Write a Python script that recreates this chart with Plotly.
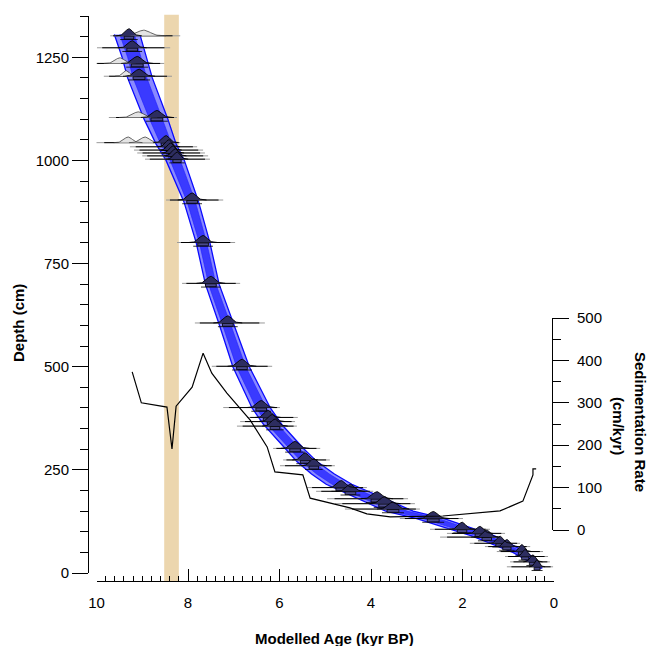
import numpy as np
import plotly.graph_objects as go

# ---------------- data ----------------
# age-depth model (centre line and half-widths of the two envelopes, kyr)
model_depth = [1305, 1250, 1200, 1100, 1040, 1000, 900, 800, 700, 600, 500, 400, 360, 300,
               270, 240, 215, 190, 170, 150, 132, 110, 90, 70, 50, 30, 12]
model_age = [9.33, 9.17, 9.05, 8.70, 8.48, 8.28, 7.93, 7.67, 7.47, 7.15, 6.84, 6.40, 6.15, 5.66,
             5.40, 5.05, 4.70, 4.20, 3.78, 3.38, 2.70, 2.10, 1.55, 1.15, 0.75, 0.48, 0.32]
model_hw_outer = [0.28, 0.27, 0.27, 0.26, 0.22, 0.20, 0.16, 0.15, 0.15, 0.16, 0.18, 0.20, 0.20, 0.20,
                  0.22, 0.25, 0.28, 0.30, 0.30, 0.30, 0.30, 0.28, 0.25, 0.20, 0.15, 0.10, 0.06]
model_hw_inner = [0.16, 0.15, 0.15, 0.14, 0.12, 0.11, 0.09, 0.08, 0.08, 0.09, 0.10, 0.11, 0.11, 0.11,
                  0.12, 0.14, 0.15, 0.17, 0.17, 0.17, 0.17, 0.15, 0.14, 0.11, 0.08, 0.06, 0.03]

# dated levels: depth (cm), modelled age (kyr), spread, range ends
date_depth = [1302, 1273, 1235, 1204, 1104, 1043, 1033, 1025, 1018, 1011, 1003, 904, 801, 702,
              606, 501, 401, 377, 367, 356, 302, 274, 260, 207, 198, 180, 168, 155, 132, 106,
              96, 87, 72, 64, 52, 40, 27, 15]
date_age = [9.29, 9.22, 9.11, 9.07, 8.68, 8.48, 8.42, 8.38, 8.33, 8.28, 8.24, 7.91, 7.67, 7.50,
            7.13, 6.82, 6.40, 6.25, 6.16, 6.10, 5.66, 5.44, 5.25, 4.65, 4.45, 3.87, 3.70, 3.52,
            2.64, 2.01, 1.62, 1.47, 1.18, 1.03, 0.70, 0.63, 0.46, 0.37]
date_sigma = [0.08, 0.09, 0.10, 0.10, 0.10, 0.08, 0.07, 0.07, 0.07, 0.07, 0.07, 0.09, 0.09, 0.09,
              0.09, 0.09, 0.09, 0.08, 0.08, 0.08, 0.09, 0.08, 0.08, 0.09, 0.09, 0.10, 0.10, 0.10,
              0.10, 0.08, 0.08, 0.08, 0.07, 0.07, 0.06, 0.06, 0.06, 0.05]
date_old = [9.70, 9.99, 10.14, 9.84, 9.73, 10.07, 9.27, 9.18, 9.11, 9.00, 8.94, 8.48, 8.24, 8.13,
            7.85, 7.48, 7.23, 6.71, 6.86, 6.93, 6.14, 5.92, 5.99, 5.40, 5.20, 4.96, 4.79, 4.57,
            3.37, 2.71, 2.34, 2.49, 1.84, 1.51, 1.25, 1.07, 0.96, 1.03]
date_young = [8.17, 8.39, 8.52, 8.35, 8.24, 8.17, 7.80, 7.67, 7.63, 7.56, 7.52, 7.23, 6.97, 6.86,
              6.32, 6.16, 5.99, 5.60, 5.66, 5.62, 5.11, 4.90, 4.79, 4.09, 3.95, 3.19, 3.04, 2.93,
              1.99, 1.40, 1.07, 1.18, 0.74, 0.52, 0.24, 0.13, 0.09, 0.02]

# unmodelled (prior) distributions
prior_depth = [1302, 1235, 1204, 1104, 1043, 1043]
prior_age = [8.97, 9.49, 9.35, 9.09, 9.31, 8.94]
prior_sigma = [0.14, 0.10, 0.07, 0.12, 0.09, 0.10]

# sedimentation rate curve
sed_age = [9.22, 9.02, 8.46, 8.35, 8.26, 7.91, 7.67, 7.48, 7.15, 6.64, 6.27, 6.10, 5.49, 5.33,
           4.46, 4.09, 3.58, 2.43, 1.18, 0.68, 0.46, 0.46, 0.39]
sed_rate = [373, 300, 290, 191, 292, 337, 417, 370, 323, 259, 196, 137, 130, 75,
            52, 38, 31, 33, 45, 68, 130, 144, 144]

event_band = [8.52, 8.20]

# ---------------- figure ----------------
FONT = "Liberation Sans, Arial, sans-serif"
fig = go.Figure()

md = np.array(model_depth, float)
ma = np.array(model_age, float)
ho = np.array(model_hw_outer, float)
hi = np.array(model_hw_inner, float)

fig.add_trace(go.Scatter(
    x=np.concatenate([ma - ho, (ma + ho)[::-1]]), y=np.concatenate([md, md[::-1]]),
    fill="toself", fillcolor="#8a8aff", line=dict(color="#0a0aff", width=1.3),
    mode="lines", hoverinfo="skip", showlegend=False))
fig.add_trace(go.Scatter(
    x=np.concatenate([ma - hi, (ma + hi)[::-1]]), y=np.concatenate([md, md[::-1]]),
    fill="toself", fillcolor="#3a3aff", line=dict(color="#2020ff", width=0.6),
    mode="lines", hoverinfo="skip", showlegend=False))

# sedimentation rate on the secondary axis
fig.add_trace(go.Scatter(x=sed_age, y=sed_rate, yaxis="y2", mode="lines",
                         line=dict(color="black", width=1.2), hoverinfo="skip",
                         showlegend=False))

# range lines
gx, gy, bx, by = [], [], [], []
for d, a, o, yg in zip(date_depth, date_age, date_old, date_young):
    gx += [o, yg, None]; gy += [d, d, None]
    bx += [a + 0.85 * (o - a), a - 0.85 * (a - yg), None]; by += [d, d, None]
fig.add_trace(go.Scatter(x=gx, y=gy, mode="lines", line=dict(color="#9a9a9a", width=1),
                         hoverinfo="skip", showlegend=False))
fig.add_trace(go.Scatter(x=bx, y=by, mode="lines", line=dict(color="black", width=1),
                         hoverinfo="skip", showlegend=False))

t = np.linspace(-3.5, 3.5, 41)
H = 17.0

# prior distributions (light)
px, py = [], []
for d, a, s in zip(prior_depth, prior_age, prior_sigma):
    px += list(a + t * s) + [None]
    py += list(d + 0.8 * H * np.exp(-t ** 2 / 2)) + [None]
fig.add_trace(go.Scatter(x=px, y=py, mode="lines", fill="toself", fillcolor="#e4e4e4",
                         line=dict(color="#404040", width=0.8), hoverinfo="skip",
                         showlegend=False))

# modelled distributions (dark) + boxes below
qx, qy, rx, ry, lx, ly = [], [], [], [], [], []
for d, a, s in zip(date_depth, date_age, date_sigma):
    qx += list(a + t * s) + [None]
    qy += list(d + H * np.exp(-t ** 2 / 2)) + [None]
    rx += [a - 1.3 * s, a + 1.3 * s, a + 1.3 * s, a - 1.3 * s, a - 1.3 * s, None]
    ry += [d - 1, d - 1, d - 8, d - 8, d - 1, None]
    lx += [a - 2.4 * s, a + 2.4 * s, None]
    ly += [d - 9, d - 9, None]
fig.add_trace(go.Scatter(x=lx, y=ly, mode="lines", line=dict(color="black", width=0.8),
                         hoverinfo="skip", showlegend=False))
fig.add_trace(go.Scatter(x=rx, y=ry, mode="lines", fill="toself", fillcolor="#4a4a8c",
                         line=dict(color="black", width=0.8), hoverinfo="skip",
                         showlegend=False))
fig.add_trace(go.Scatter(x=qx, y=qy, mode="lines", fill="toself", fillcolor="#2d2d60",
                         line=dict(color="black", width=0.9), hoverinfo="skip",
                         showlegend=False))

# event band
fig.add_shape(type="rect", xref="x", yref="paper", x0=event_band[0], x1=event_band[1],
              y0=0, y1=1.002, fillcolor="#ecd6ae", line=dict(width=0), layer="below")

# page is made margin-free (post_script below), so figure pixels == page pixels
W, Hh = 649, 646
PL, PR, PT, PB = 88, 554, 16, 581          # plot area in page pixels
L, T = PL, PT
R, B = W - PR, Hh - PB
PW, PH = PR - PL, PB - PT

fig.update_layout(
    width=W, height=Hh, margin=dict(l=L, r=R, t=T, b=B, autoexpand=False),
    paper_bgcolor="white", plot_bgcolor="rgba(0,0,0,0)",
    font=dict(family=FONT, size=15, color="black"),
    showlegend=False,
    xaxis=dict(range=[10, 0], domain=[(96.5 - PL) / PW, 1], anchor="free", position=0,
               automargin=False,
               showgrid=False, zeroline=False, showline=True, linecolor="black", linewidth=1,
               ticks="inside", ticklen=12, tickwidth=1, tickcolor="black", dtick=2, tick0=0,
               ticklabelstandoff=8,
               minor=dict(dtick=0.2, ticks="inside", ticklen=5, tickcolor="black", tickwidth=1,
                          showgrid=False)),
    yaxis=dict(range=[0, 1350], domain=[(PB - 573) / PH, 1], anchor="free", position=0,
               automargin=False,
               showgrid=False, zeroline=False, showline=True, linecolor="black", linewidth=1,
               ticks="outside", ticklen=16, tickwidth=1, tickcolor="black", dtick=250, tick0=0,
               minor=dict(dtick=50, ticks="outside", ticklen=8, tickcolor="black", tickwidth=1,
                          showgrid=False)),
    yaxis2=dict(range=[0, 500], domain=[(PB - 530) / PH, (PB - 318) / PH], anchor="free",
                position=(552 - PL) / PW, side="right", automargin=False,
                showgrid=False, zeroline=False, showline=True, linecolor="black", linewidth=1,
                ticks="outside", ticklen=16, tickwidth=1, tickcolor="black", dtick=100, tick0=0,
                ticklabelstandoff=5,
                minor=dict(dtick=50, ticks="outside", ticklen=8, tickcolor="black", tickwidth=1,
                           showgrid=False)),
)

def page2paper(x, y):
    return (x - PL) / PW, (PB - y) / PH

ann = [
    ("Depth (cm)", 18, 323, -90),
    ("Modelled Age (kyr BP)", 334, 638, 0),
    ("Sedimentation Rate", 641, 422, 90),
    ("(cm/kyr)", 619, 426, 90),
]
for txt, x, y, ang in ann:
    xp, yp = page2paper(x, y)
    fig.add_annotation(text="<b>%s</b>" % txt, x=xp, y=yp, xref="paper", yref="paper",
                       showarrow=False, textangle=ang, xanchor="center", yanchor="middle",
                       font=dict(family=FONT, size=15, color="black"))

fig.write_html("out.html", config={"displayModeBar": False},
               post_script="document.body.style.margin='0';document.body.style.overflow='hidden';")
